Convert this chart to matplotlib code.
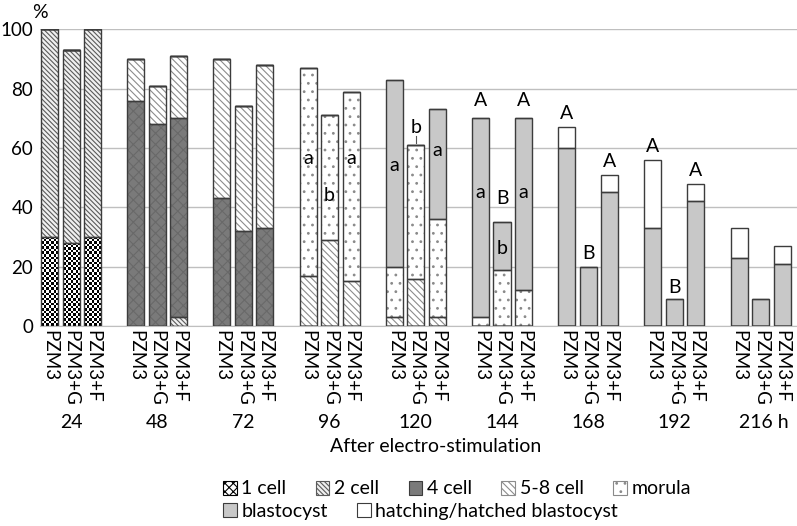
import numpy as np
import matplotlib
matplotlib.use("Agg")
import matplotlib.pyplot as plt
from matplotlib.patches import Patch

plt.rcParams['font.family'] = ['Lato', 'DejaVu Sans']
plt.rcParams['hatch.linewidth'] = 0.8

# data (percent of embryos at each stage)
hours = ['24', '48', '72', '96', '120', '144', '168', '192', '216 h']
media = ['PZM3', 'PZM3+G', 'PZM3+F']

one_cell = [30, 28, 30,  0, 0, 0,  0, 0, 0,  0, 0, 0,  0, 0, 0,  0, 0, 0,  0, 0, 0,  0, 0, 0,  0, 0, 0]
two_cell = [70, 65, 70,  0, 0, 3,  0, 0, 0,  0, 0, 0,  0, 0, 0,  0, 0, 0,  0, 0, 0,  0, 0, 0,  0, 0, 0]
four_cell = [0, 0, 0,  76, 68, 67,  43, 32, 33,  0, 0, 0,  0, 0, 0,  0, 0, 0,  0, 0, 0,  0, 0, 0,  0, 0, 0]
five_eight = [0, 0, 0,  14, 13, 21,  47, 42, 55,  17, 29, 15,  3, 16, 3,  0, 0, 0,  0, 0, 0,  0, 0, 0,  0, 0, 0]
morula = [0, 0, 0,  0, 0, 0,  0, 0, 0,  70, 42, 64,  17, 45, 33,  3, 19, 12,  0, 0, 0,  0, 0, 0,  0, 0, 0]
blastocyst = [0, 0, 0,  0, 0, 0,  0, 0, 0,  0, 0, 0,  63, 0, 37,  67, 16, 58,  60, 20, 45,  33, 9, 42,  23, 9, 21]
hatched = [0, 0, 0,  0, 0, 0,  0, 0, 0,  0, 0, 0,  0, 0, 0,  0, 0, 0,  7, 0, 6,  23, 0, 6,  10, 0, 6]

# significance letters: (bar index, y, letter)
letters = [
    (9, 56.5, 'a'), (10, 44, 'b'), (11, 56.5, 'a'),
    (12, 54, 'a'), (13, 67, 'b'), (14, 59, 'a'),
    (15, 76, 'A'), (15, 45, 'a'), (16, 43, 'B'), (16, 26, 'b'), (17, 76, 'A'), (17, 45, 'a'),
    (18, 71.5, 'A'), (19, 24.5, 'B'), (20, 55.5, 'A'),
    (21, 60.5, 'A'), (22, 13, 'B'), (23, 52.5, 'A'),
]

# (label, values, face, hatch, hatch colour)
stages = [
    ('1 cell', one_cell, 'white', None, None),
    ('2 cell', two_cell, '#f0f0f0', '\\' * 7, '#5a5a5a'),
    ('4 cell', four_cell, '#7a7a7a', 'xxx', '#696969'),
    ('5-8 cell', five_eight, 'white', '\\' * 5, '#8c8c8c'),
    ('morula', morula, 'white', '..', '#8a8a8a'),
    ('blastocyst', blastocyst, '#c8c8c8', None, None),
    ('hatching/hatched blastocyst', hatched, 'white', None, None),
]

x = np.array([g * 4 + i for g in range(len(hours)) for i in range(len(media))], dtype=float)
w = 0.79
edge = '#3c3c3c'
fs = 14

fig = plt.figure(figsize=(7.97, 5.26), dpi=100)
ax = fig.add_axes([40 / 797, 200 / 526, 757 / 797, 296.7 / 526])

bottom = np.zeros(len(x))
for label, vals, face, hatch, hcol in stages:
    vals = np.array(vals, dtype=float)
    if label == '1 cell':
        # checkerboard texture
        for xi, h in zip(x, vals):
            if h <= 0:
                continue
            ny = int(round(h / 0.85))
            img = np.indices((ny, 7)).sum(0) % 2
            ax.imshow(img, extent=(xi - w / 2, xi + w / 2, 0, h), cmap='gray',
                      aspect='auto', interpolation='nearest', zorder=2)
    else:
        ax.bar(x, vals, w, bottom=bottom, color=face, hatch=hatch,
               edgecolor=hcol if hcol else face, linewidth=0, zorder=2)
    ax.bar(x, vals, w, bottom=bottom, fill=False, edgecolor=edge,
           linewidth=1.0, zorder=3)
    bottom += vals

for idx, y, t in letters:
    ax.text(x[idx], y, t, ha='center', va='center', fontsize=fs, zorder=4)
# little tick joining "b" to the 120 h PZM3+G bar
ax.plot([x[13], x[13]], [61.8, 64.0], color='#555555', lw=0.8, zorder=4)

ax.set_xlim(-0.44, 34.69)
ax.set_ylim(0, 100)
ax.set_yticks(range(0, 101, 20))
ax.tick_params(axis='y', length=0, pad=5, labelsize=13.5)
ax.set_xticks(x)
ax.set_xticklabels(media * len(hours), rotation=270, fontsize=13.5)
ax.tick_params(axis='x', length=0, pad=3)
ax.yaxis.grid(True, color='#bfbfbf', lw=1)
ax.set_axisbelow(True)
for s in ['left', 'right', 'top']:
    ax.spines[s].set_visible(False)
ax.spines['bottom'].set_color('#bfbfbf')

for g, lab in enumerate(hours):
    ax.text(g * 4 + 1 + (0.15 if 'h' in lab else 0), -32.5, lab, ha='center',
            va='center', fontsize=fs, clip_on=False)

fig.text(436 / 797, 1 - 446 / 526, 'After electro-stimulation', ha='center',
         va='center', fontsize=fs)
fig.text(40 / 797, 1 - 12 / 526, '%', ha='center', va='center', fontsize=fs)

handles = [
    Patch(facecolor='white', edgecolor='black', hatch='xxxx', lw=0.8),
    Patch(facecolor='#f0f0f0', edgecolor='#5a5a5a', hatch='\\' * 7, lw=0.8),
    Patch(facecolor='#7a7a7a', edgecolor=edge, lw=0.8),
    Patch(facecolor='white', edgecolor='#8c8c8c', hatch='\\' * 5, lw=0.8),
    Patch(facecolor='white', edgecolor='#8a8a8a', hatch='..', lw=0.8),
    Patch(facecolor='#c8c8c8', edgecolor=edge, lw=0.8),
    Patch(facecolor='white', edgecolor=edge, lw=0.8),
]
names = [s[0] for s in stages]
leg_kw = dict(frameon=False, fontsize=fs, handlelength=0.7, handleheight=0.7,
              handletextpad=0.25, columnspacing=1.5, borderpad=0, borderaxespad=0)
fig.legend(handles[:5], names[:5], loc='center left', ncol=5,
           bbox_to_anchor=(223 / 797, 1 - 489 / 526), **leg_kw)
fig.legend(handles[5:], names[5:], loc='center left', ncol=2,
           bbox_to_anchor=(223 / 797, 1 - 511 / 526), **leg_kw)

fig.savefig('out.png', dpi=100)
